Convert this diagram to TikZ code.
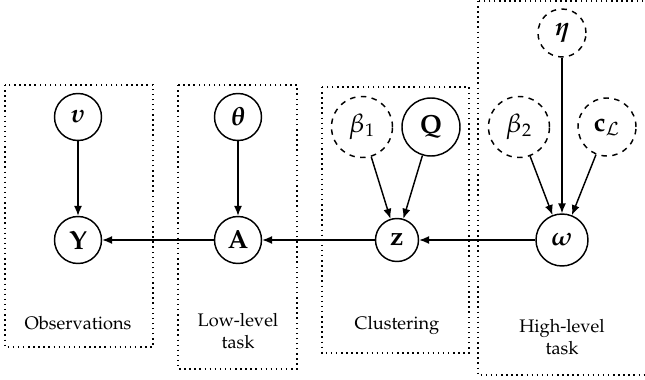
\documentclass[tikz,border=0pt]{standalone}
\usepackage[T1]{fontenc}
\usepackage{mathpazo}
\usepackage{amsmath,amssymb,bm}
\usetikzlibrary{arrows.meta}
\begin{document}
\begin{tikzpicture}[x=0.55pt,y=-0.55pt,
  var/.style={circle,draw,thick,inner sep=0pt,font=\Large},
  hyp/.style={circle,draw,thick,dashed,inner sep=0pt,font=\Large},
  plate/.style={draw,dotted,thick},
  edge/.style={-{Latex[length=5.5pt,width=4.5pt]},thick},
  lab/.style={align=center,font=\normalsize,inner sep=0pt}]
\useasboundingbox (0,0) rectangle (645,380);
% plates
\draw[plate] (5,85) rectangle (153,347);
\draw[plate] (178,85) rectangle (297,369);
\draw[plate] (322,87) rectangle (469,353);
\draw[plate] (478,1) rectangle (660,375);
% nodes
\node[var,minimum size=47*0.55pt] (v) at (78,117) {$\boldsymbol{\upsilon}$};
\node[var,minimum size=47*0.55pt] (Y) at (78,240) {$\mathbf{Y}$};
\node[var,minimum size=47*0.55pt] (th) at (238,117) {$\boldsymbol{\theta}$};
\node[var,minimum size=47*0.55pt] (A) at (238,240) {$\mathbf{A}$};
\node[var,minimum size=43*0.55pt] (z) at (397,240) {$\mathbf{z}$};
\node[hyp,minimum size=61*0.55pt] (b1) at (362,127) {$\beta_1$};
\node[var,minimum size=58*0.55pt] (Q) at (431,127) {$\mathbf{Q}$};
\node[hyp,minimum size=61*0.55pt] (b2) at (519,127) {$\beta_2$};
\node[hyp,minimum size=58*0.55pt] (cL) at (607,127) {$\mathbf{c}_{\mathcal{L}}$};
\node[hyp,minimum size=48*0.55pt] (eta) at (562,33) {$\boldsymbol{\eta}$};
\node[var,minimum size=52*0.55pt] (om) at (562,240) {$\boldsymbol{\omega}$};
% labels
\node[lab] (l1) at (78,323) {Observations};
\node[lab] (l2) at (238,331) {Low-level\\task};
\node[lab] (l3) at (397,325) {Clustering};
\node[lab] (l4) at (562,337) {High-level\\task};
% edges
\draw[edge] (v) -- (Y);
\draw[edge] (th) -- (A);
\draw[edge] (A) -- (Y);
\draw[edge] (z) -- (A);
\draw[edge] (om) -- (z);
\draw[edge] (b1) -- (z);
\draw[edge] (Q) -- (z);
\draw[edge] (b2) -- (om);
\draw[edge] (eta) -- (om);
\draw[edge] (cL) -- (om);
\end{tikzpicture}
\end{document}
